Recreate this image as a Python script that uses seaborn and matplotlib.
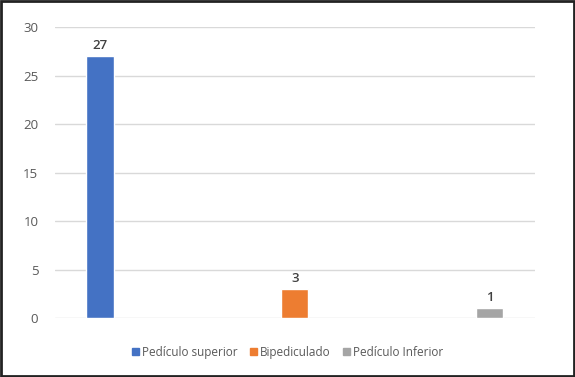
import pandas as pd
import matplotlib.pyplot as plt
import seaborn as sns
from matplotlib.patches import Rectangle

# === Data ===
categories = ["Pedículo superior", "Bipediculado", "Pedículo Inferior"]
values = [27, 3, 1]
colors = ["#4472C4", "#ED7D31", "#A5A5A5"]

df = pd.DataFrame({"tipo": categories, "n": values})

# === Settings ===
sns.set_theme(style="white")
plt.rcParams["font.family"] = ["Open Sans", "DejaVu Sans"]

fig = plt.figure(figsize=(5.75, 3.77), dpi=100)
ax = fig.add_axes([0.0957, 0.1565, 0.834, 0.7715])

palette = dict(zip(categories, colors))
sns.barplot(data=df, x="tipo", y="n", hue="tipo", palette=palette,
            width=0.14, saturation=1, legend=False, ax=ax)

ax.set_ylim(0, 30)
ax.set_xlim(-0.23, 2.23)
ax.set_yticks(range(0, 31, 5))
ax.yaxis.grid(True, color="#d9d9d9", linewidth=1)
ax.set_axisbelow(True)
ax.set_xticks([])
ax.set_xlabel("")
ax.set_ylabel("")
for s in ax.spines.values():
    s.set_visible(False)
ax.tick_params(axis="y", length=0, pad=12, labelsize=9.5, labelcolor="#595959")

# value labels
for i, v in enumerate(values):
    ax.text(i, v + 0.4, str(v), ha="center", va="bottom", fontsize=9.5,
            color="#404040", fontweight="semibold")

# legend at bottom
handles = [Rectangle((0, 0), 1, 1, color=c) for c in colors]
fig.legend(handles, categories, loc="center", bbox_to_anchor=(0.5, 0.066), ncol=3,
           frameon=False, fontsize=8.5, handlelength=0.6, handleheight=0.6,
           handletextpad=0.3, columnspacing=1.0, labelcolor="#595959")

# frame around the figure
fig.patches.append(Rectangle((0.002, 0.003), 0.996, 0.994, transform=fig.transFigure,
                             fill=False, edgecolor="#222222", linewidth=2))

fig.savefig("out.png", dpi=100)
